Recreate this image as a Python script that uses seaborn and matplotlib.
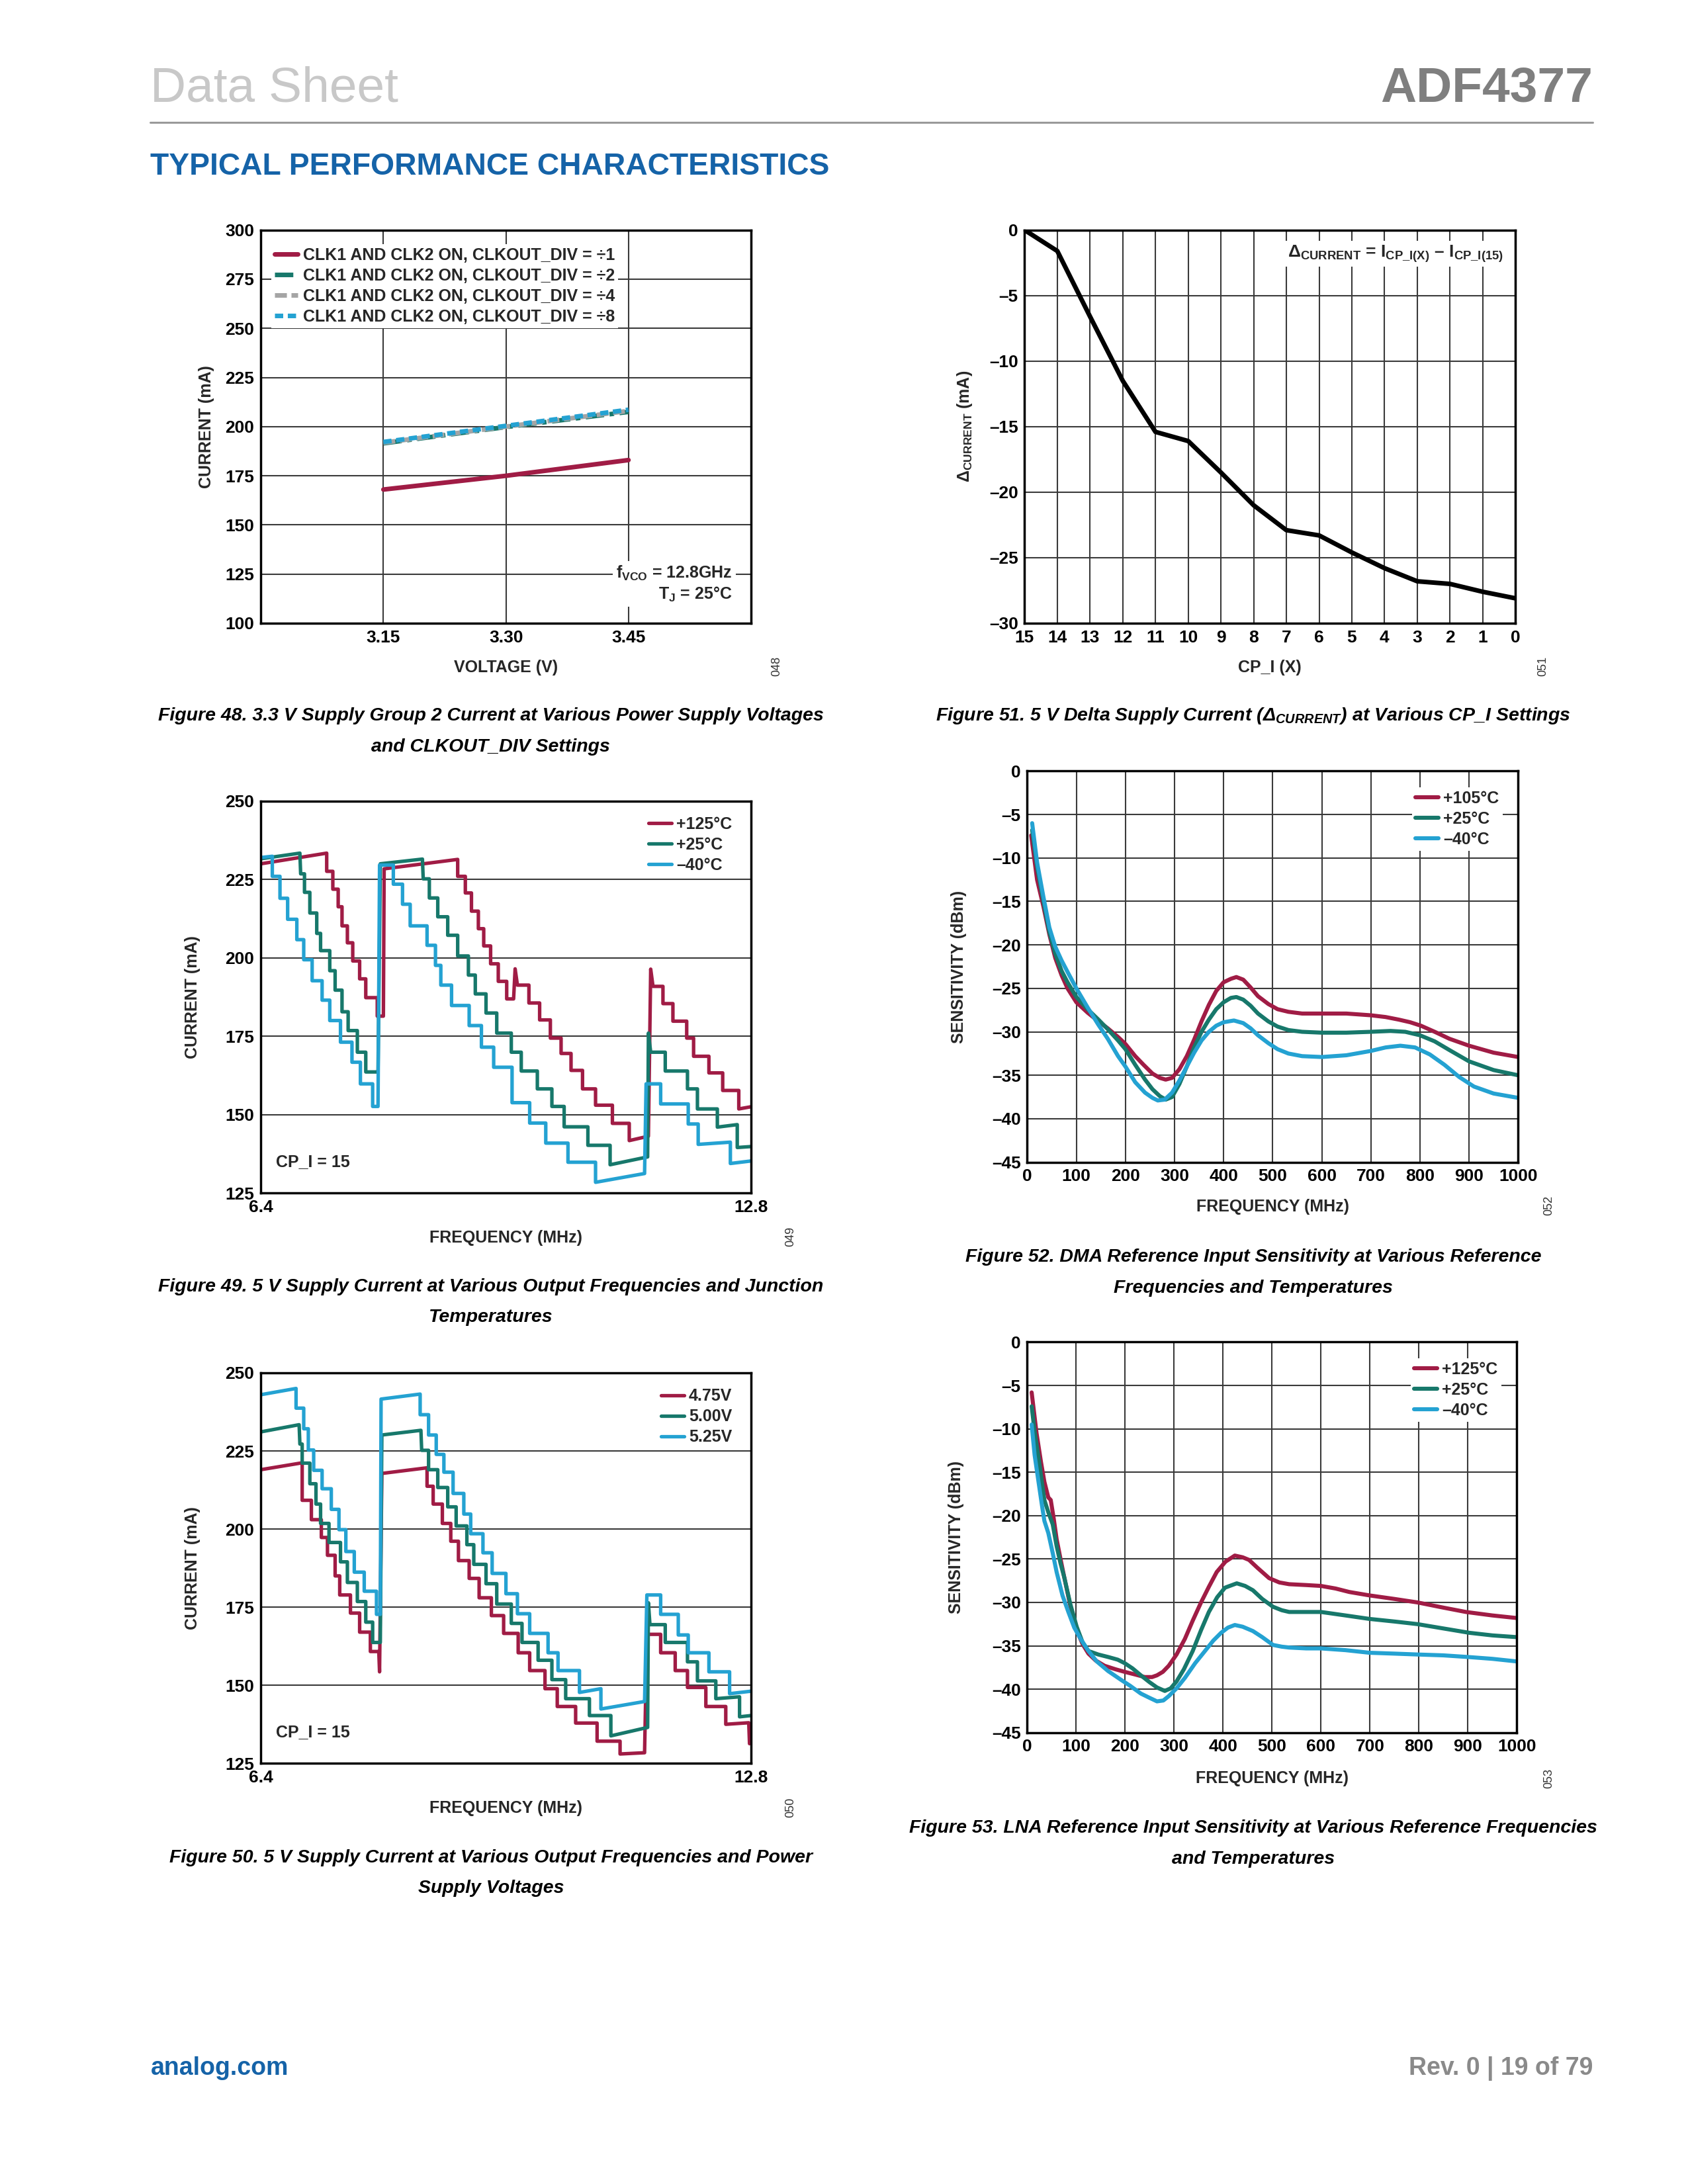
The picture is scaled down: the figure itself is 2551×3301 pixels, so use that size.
import matplotlib
matplotlib.use("Agg")
import matplotlib.pyplot as plt
import seaborn as sns
from matplotlib.font_manager import FontProperties
from matplotlib.lines import Line2D

# ---------------- data ----------------
# Figure 48: 3.3 V supply group 2 current vs supply voltage
volt48 = [3.15, 3.30, 3.45]
div1_48 = [168.0, 175.0, 183.0]
div2_48 = [191.5, 199.8, 207.5]
div4_48 = [191.8, 200.0, 208.0]
div8_48 = [192.2, 200.4, 208.6]
labels48 = ["CLK1 AND CLK2 ON, CLKOUT_DIV = ÷1", "CLK1 AND CLK2 ON, CLKOUT_DIV = ÷2",
            "CLK1 AND CLK2 ON, CLKOUT_DIV = ÷4", "CLK1 AND CLK2 ON, CLKOUT_DIV = ÷8"]

# Figure 51: delta supply current vs CP_I
cpi51 = [15, 14, 13, 12, 11, 10, 9, 8, 7, 6, 5, 4, 3, 2, 1, 0]
dcur51 = [0.0, -1.6, -6.6, -11.5, -15.4, -16.1, -18.5, -21.0, -22.9, -23.3,
          -24.6, -25.8, -26.8, -27.0, -27.6, -28.1]

# Figure 49: 5 V supply current vs frequency, by temperature (stair traces, vertices)
hot49 = [(6.40, 230.0), (7.26, 233.4), (7.26, 227.6), (7.34, 227.6), (7.34, 221.9), (7.41, 221.9),
         (7.41, 216.3), (7.46, 216.3), (7.46, 210.2), (7.53, 210.2), (7.53, 204.8), (7.60, 204.8),
         (7.60, 199.0), (7.69, 199.0), (7.69, 193.3), (7.77, 193.3), (7.77, 187.3), (7.92, 187.3),
         (7.92, 181.4), (8.00, 181.4), (8.01, 228.4), (8.97, 231.4), (8.97, 226.0), (9.07, 226.0),
         (9.07, 220.7), (9.15, 220.7), (9.15, 214.9), (9.24, 214.9), (9.24, 209.3), (9.31, 209.3),
         (9.31, 203.8), (9.40, 203.8), (9.40, 198.1), (9.50, 198.1), (9.50, 192.5), (9.61, 192.5),
         (9.61, 186.9), (9.70, 186.9), (9.72, 196.5), (9.75, 191.3), (9.90, 191.3), (9.90, 185.6),
         (10.04, 185.6), (10.04, 180.2), (10.18, 180.2), (10.18, 174.4), (10.32, 174.4), (10.32, 169.5),
         (10.45, 169.5), (10.45, 164.1), (10.60, 164.1), (10.60, 158.2), (10.77, 158.2), (10.77, 153.0),
         (10.99, 153.0), (10.99, 147.2), (11.21, 147.2), (11.21, 141.7), (11.46, 143.1), (11.49, 196.4),
         (11.52, 190.9), (11.65, 190.9), (11.65, 185.4), (11.78, 185.4), (11.78, 179.8), (11.96, 179.8),
         (11.96, 174.4), (12.05, 174.4), (12.05, 168.6), (12.25, 168.6), (12.25, 163.3), (12.43, 163.3),
         (12.43, 157.7), (12.64, 157.7), (12.64, 151.8), (12.80, 152.5)]
room49 = [(6.40, 231.6), (6.91, 233.4), (6.92, 226.8), (6.97, 226.8), (6.97, 220.9), (7.04, 220.9),
          (7.04, 214.3), (7.13, 214.3), (7.13, 207.8), (7.18, 207.8), (7.18, 202.3), (7.30, 202.3),
          (7.30, 195.9), (7.37, 195.9), (7.37, 189.7), (7.46, 189.7), (7.46, 182.8), (7.54, 182.8),
          (7.54, 176.8), (7.66, 176.8), (7.66, 169.9), (7.77, 169.9), (7.77, 163.6), (7.93, 163.6),
          (7.96, 230.0), (8.51, 231.5), (8.52, 225.2), (8.60, 225.2), (8.60, 219.1), (8.71, 219.1),
          (8.71, 213.1), (8.84, 213.1), (8.84, 207.2), (8.97, 207.2), (8.97, 200.6), (9.11, 200.6),
          (9.11, 194.5), (9.20, 194.5), (9.20, 188.5), (9.34, 188.5), (9.34, 182.4), (9.48, 182.4),
          (9.48, 176.0), (9.67, 176.0), (9.67, 169.9), (9.80, 169.9), (9.80, 163.9), (10.01, 163.9),
          (10.01, 158.2), (10.20, 158.2), (10.20, 152.6), (10.36, 152.6), (10.36, 146.1), (10.67, 146.1),
          (10.67, 140.2), (10.96, 140.2), (10.96, 134.0), (11.45, 136.5), (11.46, 176.0), (11.49, 169.9),
          (11.68, 169.9), (11.68, 163.9), (11.97, 163.9), (11.97, 158.2), (12.10, 158.2), (12.10, 151.8),
          (12.36, 151.8), (12.36, 146.0), (12.62, 146.8), (12.62, 139.5), (12.80, 139.8)]
cold49 = [(6.40, 232.0), (6.55, 232.4), (6.55, 226.0), (6.65, 226.0), (6.65, 219.0), (6.75, 219.0),
          (6.75, 212.3), (6.87, 212.3), (6.87, 205.8), (6.96, 205.8), (6.96, 199.4), (7.07, 199.4),
          (7.07, 192.7), (7.20, 192.7), (7.20, 186.5), (7.30, 186.5), (7.30, 180.0), (7.44, 180.0),
          (7.44, 173.1), (7.59, 173.1), (7.59, 166.7), (7.70, 166.7), (7.70, 159.8), (7.86, 159.8),
          (7.86, 152.6), (7.93, 152.6), (7.95, 229.6), (8.13, 229.6), (8.13, 223.5), (8.25, 223.5),
          (8.25, 217.1), (8.35, 217.1), (8.35, 210.2), (8.57, 210.2), (8.57, 204.0), (8.68, 204.0),
          (8.68, 197.6), (8.75, 197.6), (8.75, 191.3), (8.89, 191.3), (8.89, 184.8), (9.12, 184.8),
          (9.12, 178.4), (9.28, 178.4), (9.28, 171.5), (9.44, 171.5), (9.44, 165.1), (9.68, 165.1),
          (9.68, 153.8), (9.91, 153.8), (9.91, 147.3), (10.12, 147.3), (10.12, 140.9), (10.41, 140.9),
          (10.41, 134.8), (10.77, 134.8), (10.77, 128.4), (11.41, 131.2), (11.43, 159.8), (11.62, 159.8),
          (11.62, 153.4), (11.98, 153.4), (11.98, 147.0), (12.11, 147.0), (12.11, 140.5), (12.53, 141.2),
          (12.53, 134.4), (12.80, 135.2)]

# Figure 50: 5 V supply current vs frequency, by supply voltage
v475_50 = [(6.40, 219.0), (6.94, 221.2), (6.94, 209.2), (7.06, 209.2), (7.06, 203.0), (7.19, 203.0),
           (7.19, 197.3), (7.27, 197.3), (7.27, 191.6), (7.37, 191.6), (7.37, 185.0), (7.43, 185.0),
           (7.43, 178.9), (7.57, 178.9), (7.57, 173.1), (7.69, 173.1), (7.69, 167.0), (7.83, 167.0),
           (7.83, 160.8), (7.94, 160.8), (7.95, 154.3), (7.98, 217.8), (8.57, 219.6), (8.57, 213.7),
           (8.65, 213.7), (8.65, 208.0), (8.77, 208.0), (8.77, 201.8), (8.88, 201.8), (8.88, 196.1),
           (8.98, 196.1), (8.98, 189.9), (9.12, 189.9), (9.12, 184.2), (9.25, 184.2), (9.25, 178.0),
           (9.41, 178.0), (9.41, 172.3), (9.57, 172.3), (9.57, 166.6), (9.76, 166.6), (9.76, 160.4),
           (9.91, 160.4), (9.91, 154.7), (10.11, 154.7), (10.11, 148.9), (10.27, 148.9), (10.27, 143.2),
           (10.51, 143.2), (10.51, 137.9), (10.79, 137.9), (10.79, 132.1), (11.09, 132.1), (11.09, 128.0),
           (11.41, 128.4), (11.44, 166.3), (11.62, 166.3), (11.62, 160.4), (11.81, 160.4), (11.81, 154.7),
           (11.97, 154.7), (11.97, 149.3), (12.21, 149.3), (12.21, 143.2), (12.47, 143.2), (12.47, 137.5),
           (12.77, 138.0), (12.78, 131.3)]
v500_50 = [(6.40, 231.1), (6.90, 233.4), (6.91, 227.2), (6.94, 227.2), (6.94, 221.1), (7.04, 221.1),
           (7.04, 214.5), (7.12, 214.5), (7.12, 208.0), (7.18, 208.0), (7.18, 201.8), (7.29, 201.8),
           (7.29, 195.7), (7.44, 195.7), (7.44, 189.5), (7.53, 189.5), (7.53, 182.9), (7.66, 182.9),
           (7.66, 176.8), (7.77, 176.8), (7.77, 170.2), (7.86, 170.2), (7.86, 163.7), (7.96, 163.7),
           (7.98, 230.1), (8.49, 231.6), (8.50, 225.2), (8.59, 225.2), (8.59, 219.0), (8.71, 219.0),
           (8.71, 213.3), (8.84, 213.3), (8.84, 207.1), (8.95, 207.1), (8.95, 201.0), (9.09, 201.0),
           (9.09, 195.0), (9.18, 195.0), (9.18, 188.7), (9.34, 188.7), (9.34, 182.5), (9.48, 182.5),
           (9.48, 176.0), (9.67, 176.0), (9.67, 169.8), (9.81, 169.8), (9.81, 163.7), (10.02, 163.7),
           (10.02, 158.0), (10.20, 158.0), (10.20, 151.8), (10.38, 151.8), (10.38, 145.7), (10.69, 145.7),
           (10.69, 140.3), (10.97, 140.3), (10.97, 133.8), (11.45, 136.5), (11.46, 176.4), (11.48, 169.4),
           (11.68, 169.4), (11.68, 163.7), (11.97, 163.7), (11.97, 157.5), (12.10, 157.5), (12.10, 151.4),
           (12.34, 151.4), (12.34, 145.7), (12.65, 146.3), (12.65, 139.9), (12.80, 140.3)]
v525_50 = [(6.40, 243.0), (6.86, 245.0), (6.86, 238.7), (6.96, 238.7), (6.96, 232.1), (7.02, 232.1),
           (7.02, 225.3), (7.09, 225.3), (7.09, 218.8), (7.20, 218.8), (7.20, 212.9), (7.32, 212.9),
           (7.32, 206.3), (7.42, 206.3), (7.42, 199.8), (7.51, 199.8), (7.51, 192.8), (7.62, 192.8),
           (7.62, 186.2), (7.75, 186.2), (7.75, 180.1), (7.91, 180.1), (7.91, 172.7), (7.96, 172.7),
           (7.97, 241.6), (8.48, 243.2), (8.48, 236.6), (8.59, 236.6), (8.59, 230.1), (8.69, 230.1),
           (8.69, 223.9), (8.79, 223.9), (8.79, 218.2), (8.91, 218.2), (8.91, 211.4), (9.05, 211.4),
           (9.05, 204.8), (9.14, 204.8), (9.14, 198.5), (9.30, 198.5), (9.30, 192.4), (9.42, 192.4),
           (9.42, 185.8), (9.60, 185.8), (9.60, 179.3), (9.75, 179.3), (9.75, 172.9), (9.91, 172.9),
           (9.91, 166.6), (10.15, 166.6), (10.15, 160.4), (10.28, 160.4), (10.28, 154.7), (10.56, 154.7),
           (10.56, 147.7), (10.84, 148.9), (10.84, 142.4), (11.41, 144.8), (11.44, 178.9), (11.62, 178.9),
           (11.62, 172.7), (11.85, 172.7), (11.85, 166.1), (11.98, 166.1), (11.98, 160.4), (12.25, 160.4),
           (12.25, 154.3), (12.52, 154.3), (12.52, 147.3), (12.80, 148.1)]

# Figure 52: DMA reference input sensitivity (MHz, dBm)
f52_hot = [8, 20, 33, 45, 57, 70, 82, 100, 123, 145, 164, 185, 200, 220, 237, 255, 270, 282, 295,
           310, 325, 340, 355, 370, 385, 400, 415, 426, 440, 455, 470, 491, 510, 532, 560, 600, 650,
           700, 730, 757, 780, 802, 830, 860, 900, 950, 1000]
s52_hot = [-7.4, -12.5, -15.6, -18.8, -21.5, -23.5, -25.0, -26.6, -27.8, -28.8, -29.6, -30.6, -31.4,
           -32.8, -33.8, -34.8, -35.3, -35.5, -35.3, -34.3, -32.8, -30.9, -28.8, -26.9, -25.3, -24.3,
           -23.9, -23.7, -24.0, -24.9, -25.9, -26.8, -27.4, -27.7, -27.9, -27.9, -27.9, -28.1, -28.3,
           -28.6, -28.9, -29.3, -30.0, -30.8, -31.6, -32.4, -32.9]
f52_room = [10, 20, 33, 45, 57, 70, 82, 100, 123, 145, 164, 185, 200, 220, 240, 255, 270, 282, 295,
            310, 325, 340, 355, 370, 385, 400, 415, 426, 440, 455, 470, 491, 510, 532, 560, 600, 650,
            700, 740, 770, 800, 830, 860, 900, 950, 1000]
s52_room = [-6.8, -11.0, -15.0, -18.5, -21.0, -23.0, -24.3, -26.0, -27.4, -28.6, -29.7, -31.0, -32.0,
            -33.8, -35.5, -36.6, -37.4, -37.8, -37.5, -36.0, -34.0, -31.8, -30.0, -28.6, -27.4, -26.6,
            -26.1, -26.0, -26.3, -27.0, -27.9, -28.8, -29.4, -29.8, -30.0, -30.1, -30.1, -30.0, -29.9,
            -30.0, -30.4, -31.1, -32.1, -33.4, -34.4, -35.0]
f52_cold = [10, 20, 33, 45, 57, 70, 82, 100, 123, 145, 164, 185, 200, 220, 240, 255, 266, 280, 295,
            310, 325, 340, 355, 370, 385, 400, 421, 440, 455, 470, 491, 510, 532, 560, 600, 650, 700,
            730, 760, 790, 820, 850, 880, 910, 950, 1000]
s52_cold = [-6.0, -10.5, -14.5, -18.0, -20.2, -21.8, -23.1, -25.0, -27.2, -29.2, -30.8, -32.8, -34.0,
            -35.8, -37.0, -37.6, -37.9, -37.8, -37.0, -35.6, -34.0, -32.4, -31.0, -30.0, -29.3, -28.9,
            -28.7, -29.0, -29.6, -30.4, -31.3, -32.0, -32.5, -32.8, -32.9, -32.7, -32.2, -31.8, -31.6,
            -31.8, -32.6, -33.8, -35.2, -36.3, -37.1, -37.6]

# Figure 53: LNA reference input sensitivity (MHz, dBm)
f53_hot = [9, 19, 28, 35, 43, 48, 54, 60, 68, 76, 88, 101, 113, 125, 140, 158, 180, 199, 220, 240,
           255, 265, 277, 289, 305, 322, 338, 355, 371, 387, 405, 424, 440, 453, 470, 494, 515, 535,
           570, 600, 630, 658, 700, 750, 797, 850, 896, 950, 1000]
s53_hot = [-5.8, -10.5, -13.8, -16.1, -17.9, -18.2, -20.3, -22.7, -25.0, -27.2, -30.4, -33.2, -34.8,
           -35.9, -36.7, -37.3, -37.7, -38.0, -38.3, -38.6, -38.6, -38.4, -38.0, -37.3, -36.0, -34.2,
           -32.1, -30.0, -28.2, -26.5, -25.3, -24.6, -24.8, -25.1, -26.0, -27.2, -27.7, -27.9, -28.0,
           -28.1, -28.4, -28.8, -29.2, -29.6, -30.0, -30.6, -31.1, -31.5, -31.8]
f53_room = [9, 15, 23, 30, 35, 43, 52, 60, 68, 76, 88, 101, 113, 125, 145, 166, 185, 199, 215, 232,
            250, 265, 281, 293, 305, 320, 338, 355, 371, 388, 404, 428, 445, 461, 480, 502, 520, 535,
            570, 600, 650, 699, 750, 797, 850, 903, 950, 1000]
s53_room = [-7.4, -10.3, -13.3, -16.2, -18.2, -19.6, -21.0, -23.5, -25.5, -27.2, -30.2, -32.8, -34.6,
            -35.6, -36.0, -36.3, -36.6, -37.0, -37.6, -38.4, -39.2, -39.8, -40.2, -39.9, -39.1, -37.7,
            -35.6, -33.2, -31.1, -29.4, -28.3, -27.8, -28.1, -28.6, -29.6, -30.5, -30.9, -31.1, -31.1,
            -31.1, -31.5, -31.9, -32.2, -32.5, -33.0, -33.5, -33.8, -34.0]
f53_cold = [9, 15, 23, 30, 35, 43, 52, 60, 72, 84, 96, 109, 125, 142, 165, 191, 210, 232, 250, 265,
            278, 289, 305, 322, 343, 363, 380, 396, 410, 424, 440, 461, 480, 502, 520, 535, 570, 600,
            650, 699, 750, 797, 850, 903, 950, 1000]
s53_cold = [-9.5, -13.0, -16.1, -18.8, -20.6, -22.0, -24.3, -26.5, -29.2, -31.1, -32.9, -34.2, -35.6,
            -36.8, -37.9, -38.9, -39.6, -40.5, -41.0, -41.4, -41.3, -40.8, -39.9, -38.7, -37.0, -35.6,
            -34.4, -33.5, -32.9, -32.6, -32.8, -33.3, -34.0, -34.9, -35.1, -35.2, -35.3, -35.3, -35.5,
            -35.8, -35.9, -36.0, -36.1, -36.3, -36.5, -36.8]

# ---------------- styling ----------------
RED = "#a01c45"
TEAL = "#17786b"
CYAN = "#24a2d2"
GREY = "#a5a5a5"
GRID = "#3a3a3a"
FONT = "Liberation Sans"

sns.set_theme(style="white")
plt.rcParams["font.family"] = [FONT, "DejaVu Sans"]
plt.rcParams["mathtext.fontset"] = "custom"
plt.rcParams["mathtext.bf"] = FONT + ":bold"
plt.rcParams["mathtext.it"] = FONT + ":italic:bold"
plt.rcParams["mathtext.rm"] = FONT

TICK_FP = FontProperties(family=FONT, weight="bold", size=19)
LEG_FP = FontProperties(family=FONT, weight="bold", size=18)
NOTE_FP = FontProperties(family=FONT, weight="bold", size=19)
LABEL_FP = FontProperties(family=FONT, weight="bold", size=18)
CAP_FP = FontProperties(family=FONT, weight="bold", style="italic", size=20.5)

W, H = 2551, 3301
S = 1.0107  # page coordinates below were measured on a slightly smaller grid
fig = plt.figure(figsize=(W / 100, H / 100), dpi=100)
fig.patch.set_facecolor("white")


def add_panel(l, t, r, b):
    l, t, r, b = l * S, t * S, r * S, b * S
    return fig.add_axes([l / W, 1 - b / H, (r - l) / W, (b - t) / H])


def dash(v):
    return f"{v:g}".replace("-", "\u2013")


def finish(ax, xticks, xlabels, yticks, xlabel, ylabel, xgrid=True, ylab_x=-0.12, xlab_y=-0.114):
    ax.set_xticks(xticks, labels=xlabels, fontproperties=TICK_FP)
    ax.set_yticks(yticks, labels=[dash(v) for v in yticks], fontproperties=TICK_FP)
    ax.tick_params(length=0, pad=7, colors="black")
    ax.set_axisbelow(True)
    ax.grid(False)
    ax.yaxis.grid(True, color=GRID, lw=1.5)
    if xgrid:
        ax.xaxis.grid(True, color=GRID, lw=1.5)
    for s in ax.spines.values():
        s.set_visible(True)
        s.set_color("black")
        s.set_linewidth(2.5)
    ax.set_xlabel(xlabel, fontproperties=LABEL_FP, va="center")
    ax.set_ylabel(ylabel, fontproperties=LABEL_FP, va="center")
    ax.xaxis.set_label_coords(0.5, xlab_y)
    ax.yaxis.set_label_coords(ylab_x, 0.5)
    ax.set_facecolor("white")


def legend(ax, **kw):
    opts = dict(prop=LEG_FP, handlelength=1.4, handletextpad=0.3, labelspacing=0.28,
                borderpad=0.2, frameon=True, facecolor="white", edgecolor="none",
                framealpha=1, fancybox=False)
    opts.update(kw)
    ax.legend(**opts)


def stair(ax, pts, color, label):
    xs = [p[0] for p in pts]
    ys = [p[1] for p in pts]
    sns.lineplot(x=xs, y=ys, sort=False, estimator=None, ax=ax, color=color, lw=3.8, label=label)


# ---- Figure 48 ----
ax = add_panel(390, 344, 1123, 932)
for ys, c, ls, lab in [(div1_48, RED, "-", labels48[0]),
                       (div2_48, TEAL, (0, (4, 1.2, 1, 1.2)), labels48[1]),
                       (div4_48, GREY, (0, (2.6, 1)), labels48[2]),
                       (div8_48, CYAN, (0, (1.8, 1)), labels48[3])]:
    sns.lineplot(x=volt48, y=ys, ax=ax, color=c, lw=5, linestyle=ls, label=lab)
ax.set_xlim(3.0, 3.6)
ax.set_ylim(100, 300)
finish(ax, volt48, ["3.15", "3.30", "3.45"], list(range(100, 301, 25)),
       "VOLTAGE (V)", "CURRENT (mA)", ylab_x=-0.111, xlab_y=-0.113)
legend(ax, loc="upper left", bbox_to_anchor=(0.005, 0.985), handlelength=1.4)
ax.text(0.962, 0.10, "f$_{\\mathbf{VCO}}$ = 12.8GHz\nT$_{\\mathbf{J}}$ = 25°C", transform=ax.transAxes,
        ha="right", va="center", multialignment="right", fontproperties=LEG_FP, linespacing=1.2,
        bbox=dict(fc="white", ec="none", pad=4))

# ---- Figure 51 ----
ax = add_panel(1532, 344, 2266, 932)
sns.lineplot(x=cpi51, y=dcur51, ax=ax, color="black", lw=5)
ax.set_xlim(15, 0)
ax.set_ylim(-30, 0)
finish(ax, cpi51, [str(v) for v in cpi51], list(range(-30, 1, 5)),
       "CP_I (X)", "Δ$_{\\mathbf{CURRENT}}$ (mA)", ylab_x=-0.122, xlab_y=-0.113)
ax.text(0.975, 0.94, "Δ$_{\\mathbf{CURRENT}}$ = I$_{\\mathbf{CP\\_I(X)}}$ \u2013 I$_{\\mathbf{CP\\_I(15)}}$",
        transform=ax.transAxes, ha="right", va="center", fontproperties=NOTE_FP,
        bbox=dict(fc="white", ec="none", pad=3))

# ---- Figure 49 ----
ax = add_panel(390, 1198, 1123, 1784)
stair(ax, hot49, RED, "+125°C")
stair(ax, room49, TEAL, "+25°C")
stair(ax, cold49, CYAN, "\u201340°C")
ax.set_xlim(6.4, 12.8)
ax.set_ylim(125, 250)
finish(ax, [6.4, 12.8], ["6.4", "12.8"], list(range(125, 251, 25)),
       "FREQUENCY (MHz)", "CURRENT (mA)", xgrid=False, ylab_x=-0.139, xlab_y=-0.114)
legend(ax, loc="upper right", bbox_to_anchor=(0.985, 0.99))
ax.text(0.031, 0.08, "CP_I = 15", transform=ax.transAxes, ha="left", va="center", fontproperties=LEG_FP)

# ---- Figure 52 ----
ax = add_panel(1536, 1153, 2270, 1738)
sns.lineplot(x=f52_hot, y=s52_hot, ax=ax, color=RED, lw=4.4, label="+105°C")
sns.lineplot(x=f52_room, y=s52_room, ax=ax, color=TEAL, lw=4.4, label="+25°C")
sns.lineplot(x=f52_cold, y=s52_cold, ax=ax, color=CYAN, lw=4.4, label="\u201340°C")
ax.set_xlim(0, 1000)
ax.set_ylim(-45, 0)
finish(ax, list(range(0, 1001, 100)), [str(v) for v in range(0, 1001, 100)], list(range(-45, 1, 5)),
       "FREQUENCY (MHz)", "SENSITIVITY (dBm)", ylab_x=-0.139, xlab_y=-0.114)
legend(ax, loc="upper right", bbox_to_anchor=(0.985, 0.98))

# ---- Figure 50 ----
ax = add_panel(390, 2053, 1123, 2637)
stair(ax, v475_50, RED, "4.75V")
stair(ax, v500_50, TEAL, "5.00V")
stair(ax, v525_50, CYAN, "5.25V")
ax.set_xlim(6.4, 12.8)
ax.set_ylim(125, 250)
finish(ax, [6.4, 12.8], ["6.4", "12.8"], list(range(125, 251, 25)),
       "FREQUENCY (MHz)", "CURRENT (mA)", xgrid=False, ylab_x=-0.139, xlab_y=-0.114)
legend(ax, loc="upper right", bbox_to_anchor=(0.985, 0.99))
ax.text(0.031, 0.08, "CP_I = 15", transform=ax.transAxes, ha="left", va="center", fontproperties=LEG_FP)

# ---- Figure 53 ----
ax = add_panel(1536, 2007, 2268, 2591)
sns.lineplot(x=f53_hot, y=s53_hot, ax=ax, color=RED, lw=4.4, label="+125°C")
sns.lineplot(x=f53_room, y=s53_room, ax=ax, color=TEAL, lw=4.4, label="+25°C")
sns.lineplot(x=f53_cold, y=s53_cold, ax=ax, color=CYAN, lw=4.4, label="\u201340°C")
ax.set_xlim(0, 1000)
ax.set_ylim(-45, 0)
finish(ax, list(range(0, 1001, 100)), [str(v) for v in range(0, 1001, 100)], list(range(-45, 1, 5)),
       "FREQUENCY (MHz)", "SENSITIVITY (dBm)", ylab_x=-0.145, xlab_y=-0.118)
legend(ax, loc="upper right", bbox_to_anchor=(0.985, 0.98))


# ---------------- page furniture ----------------
def ftext(x, y, s, **kw):
    fig.text(x * S / W, 1 - y * S / H, s, **kw)


ftext(225, 152, "Data Sheet", ha="left", va="baseline", color="#c8c8c8",
      fontproperties=FontProperties(family=FONT, size=54))
ftext(2382, 152, "ADF4377", ha="right", va="baseline", color="#7f7f7f",
      fontproperties=FontProperties(family=FONT, weight="bold", size=54))
fig.add_artist(Line2D([225 * S / W, 2382 * S / W], [1 - 183 * S / H, 1 - 183 * S / H],
                      color="#9a9a9a", lw=2.2))
ftext(225, 261, "TYPICAL PERFORMANCE CHARACTERISTICS", ha="left", va="baseline", color="#1563a8",
      fontproperties=FontProperties(family=FONT, weight="bold", size=33.3))
ftext(225, 3103, "analog.com", ha="left", va="baseline", color="#1563a8",
      fontproperties=FontProperties(family=FONT, weight="bold", size=27))
ftext(2382, 3103, "Rev. 0 | 19 of 79", ha="right", va="baseline", color="#8a8a8a",
      fontproperties=FontProperties(family=FONT, weight="bold", size=27))

captions = [
    (734, 1071, "Figure 48. 3.3 V Supply Group 2 Current at Various Power Supply Voltages"),
    (734, 1117, "and CLKOUT_DIV Settings"),
    (1874, 1071, "Figure 51. 5 V Delta Supply Current (Δ$_{CURRENT}$) at Various CP_I Settings"),
    (734, 1924, "Figure 49. 5 V Supply Current at Various Output Frequencies and Junction"),
    (734, 1970, "Temperatures"),
    (1874, 1880, "Figure 52. DMA Reference Input Sensitivity at Various Reference"),
    (1874, 1926, "Frequencies and Temperatures"),
    (734, 2778, "Figure 50. 5 V Supply Current at Various Output Frequencies and Power"),
    (734, 2824, "Supply Voltages"),
    (1874, 2734, "Figure 53. LNA Reference Input Sensitivity at Various Reference Frequencies"),
    (1874, 2780, "and Temperatures"),
]
for x, y, s in captions:
    ftext(x, y, s, ha="center", va="center", color="black", fontproperties=CAP_FP)

for x, y, s in [(1161, 996, "048"), (2307, 996, "051"), (1182, 1849, "049"),
                (2316, 1803, "052"), (1182, 2703, "050"), (2316, 2659, "053")]:
    ftext(x, y, s, ha="center", va="center", rotation=90, color="#333333",
          fontproperties=FontProperties(family=FONT, size=13))

fig.savefig("out.png", dpi=100, facecolor="white")
